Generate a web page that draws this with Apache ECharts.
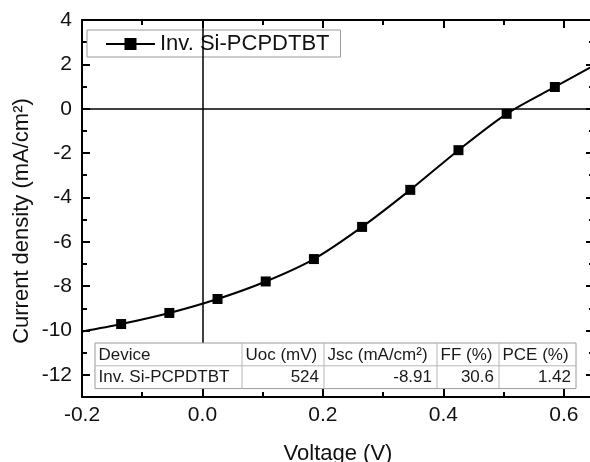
<!DOCTYPE html>
<html><head><meta charset="utf-8">
<script src="https://cdn.jsdelivr.net/npm/echarts@6/dist/echarts.min.js"></script>
<style>html,body{margin:0;padding:0;background:#fff}#c{width:590px;height:462px}</style>
</head><body><div id="c"></div>
<script>
// ---- data ----
const seriesName = 'Inv. Si-PCPDTBT';
const voltage = [-0.2, -0.135, -0.055, 0.025, 0.105, 0.185, 0.265, 0.345, 0.425, 0.505, 0.585, 0.65];
const currentDensity = [-10.05, -9.71, -9.21, -8.58, -7.79, -6.78, -5.33, -3.66, -1.87, -0.23, 0.98, 1.95];
const hasMarker = [false, true, true, true, true, true, true, true, true, true, true, false];
const xTicks = [-0.2, 0, 0.2, 0.4, 0.6];
const xMinorTicks = [-0.1, 0.1, 0.3, 0.5];
const yTicks = [-12, -10, -8, -6, -4, -2, 0, 2, 4];
const yMinorTicks = [-11, -9, -7, -5, -3, -1, 1, 3];
const tableHeader = ['Device', 'Uoc (mV)', 'Jsc (mA/cm²)', 'FF (%)', 'PCE (%)'];
const tableRow = ['Inv. Si-PCPDTBT', '524', '-8.91', '30.6', '1.42'];
const xTitle = 'Voltage (V)';
const yTitle = 'Current density (mA/cm²)';

// ---- layout / style ----
const FONT = '"Liberation Sans", Arial, Helvetica, sans-serif';
const X_MIN = -0.2, X_MAX = 0.65, Y_MIN = -13, Y_MAX = 4;
const chart = echarts.init(document.getElementById('c'), null, {renderer: 'canvas'});

function xAx(pos, ticks, len, showLine, showLabel) {
  return {
    type: 'value', position: pos, min: X_MIN, max: X_MAX,
    axisLine: {show: showLine, onZero: false, lineStyle: {color: '#000', width: 2}},
    axisTick: {show: true, inside: true, length: len, customValues: ticks, lineStyle: {color: '#000', width: 2}},
    axisLabel: showLabel ? {show: true, customValues: ticks, formatter: v => v.toFixed(1), fontSize: 21, fontFamily: FONT, color: '#111', margin: 8} : {show: false},
    splitLine: {show: false}, minorTick: {show: false}
  };
}
function yAx(pos, ticks, len, showLine, showLabel) {
  return {
    type: 'value', position: pos, min: Y_MIN, max: Y_MAX,
    axisLine: {show: showLine, onZero: false, lineStyle: {color: '#000', width: 2}},
    axisTick: {show: true, inside: true, length: len, customValues: ticks, lineStyle: {color: '#000', width: 2}},
    axisLabel: showLabel ? {show: true, customValues: ticks, formatter: v => String(v), fontSize: 21, fontFamily: FONT, color: '#111', margin: 10} : {show: false},
    splitLine: {show: false}, minorTick: {show: false}
  };
}

const xAxes = [
  xAx('bottom', xTicks, 8, true, true),
  xAx('bottom', xMinorTicks, 5, false, false),
  xAx('top', xTicks, 8, true, false),
  xAx('top', xMinorTicks, 5, false, false)
];
xAxes[0].name = xTitle;
xAxes[0].nameLocation = 'middle';
xAxes[0].nameGap = 46;
xAxes[0].nameTextStyle = {fontSize: 22, fontFamily: FONT, color: '#111'};

const yAxes = [
  yAx('left', yTicks, 8, true, true),
  yAx('left', yMinorTicks, 5, false, false),
  yAx('right', yTicks, 8, true, false),
  yAx('right', yMinorTicks, 5, false, false)
];

const seriesData = voltage.map((v, i) => {
  const d = {value: [v, currentDensity[i]]};
  if (!hasMarker[i]) d.symbol = 'none';
  return d;
});

// table graphic
const T = {x0: 95, y0: 343, rowH: 22.8, cols: [95, 242, 324, 437, 499, 576]};
const tW = T.cols[T.cols.length - 1] - T.x0;
const tableEls = [];
tableEls.push({type: 'rect', z: 50, shape: {x: T.x0, y: T.y0, width: tW, height: T.rowH * 2},
  style: {fill: '#fff', stroke: '#9a9a9a', lineWidth: 1}});
tableEls.push({type: 'line', z: 51, shape: {x1: T.x0, y1: T.y0 + T.rowH, x2: T.x0 + tW, y2: T.y0 + T.rowH},
  style: {stroke: '#b5b5b5', lineWidth: 1}});
for (let i = 1; i < T.cols.length - 1; i++) {
  tableEls.push({type: 'line', z: 51, shape: {x1: T.cols[i], y1: T.y0, x2: T.cols[i], y2: T.y0 + 2 * T.rowH},
    style: {stroke: '#b5b5b5', lineWidth: 1}});
}
tableHeader.forEach((h, i) => {
  tableEls.push({type: 'text', z: 52, x: T.cols[i] + 3.5, y: T.y0 + T.rowH / 2 + 0.5,
    style: {text: h, font: '17px ' + FONT, fill: '#1a1a1a', align: 'left', verticalAlign: 'middle'}});
});
tableRow.forEach((r, i) => {
  const left = i === 0;
  tableEls.push({type: 'text', z: 52, x: left ? T.cols[i] + 3.5 : T.cols[i + 1] - 5, y: T.y0 + T.rowH * 1.5 + 0.5,
    style: {text: r, font: '17px ' + FONT, fill: '#1a1a1a', align: left ? 'left' : 'right', verticalAlign: 'middle'}});
});
tableEls.push({type: 'text', z: 52, x: 22, y: 221, rotation: Math.PI / 2,
  style: {text: yTitle, font: '22px ' + FONT, fill: '#111', align: 'center', verticalAlign: 'middle'}});

chart.setOption({
  animation: false,
  backgroundColor: '#fff',
  grid: {left: 82, top: 20, width: 512, height: 377, containLabel: false, outerBoundsMode: 'none'},
  xAxis: xAxes,
  yAxis: yAxes,
  legend: {
    data: [seriesName], left: 87, top: 30, orient: 'horizontal',
    padding: [3, 11, 2, 18], borderColor: '#9a9a9a', borderWidth: 1, backgroundColor: '#fff',
    itemWidth: 49, itemHeight: 15, itemGap: 5,
    textStyle: {fontSize: 22, fontFamily: FONT, color: '#111'}
  },
  series: [{
    name: seriesName, type: 'line', xAxisIndex: 0, yAxisIndex: 0,
    data: seriesData, smooth: 0.3, symbol: 'rect', symbolSize: 10,
    itemStyle: {color: '#000'}, lineStyle: {color: '#000', width: 2},
    markLine: {
      silent: true, symbol: ['none', 'none'], label: {show: false},
      lineStyle: {color: '#000', width: 1.5, type: 'solid'},
      data: [{xAxis: 0}, {yAxis: 0}]
    }
  }],
  graphic: {elements: tableEls}
});
</script></body></html>
